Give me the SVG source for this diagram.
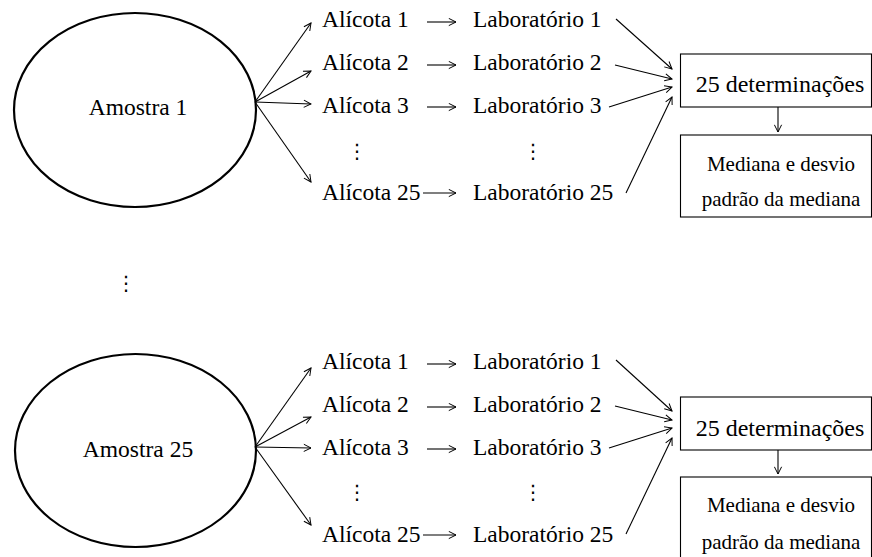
<svg xmlns="http://www.w3.org/2000/svg" width="872" height="557" viewBox="0 0 872 557">
<style>
text{font-family:'Liberation Serif','Times New Roman',serif;fill:#000}
.t{font-size:23.5px}
.c{text-anchor:middle}
.b{font-size:24px}
.s{font-size:21px}
.d{font-family:'DejaVu Serif','DejaVu Sans',serif;font-size:20px;text-anchor:middle}
.ell{fill:none;stroke:#000;stroke-width:2.2}
.box{fill:#fff;stroke:#000;stroke-width:1.1}
.cn line{stroke:#000;stroke-width:1.1;marker-end:url(#ah)}
</style>
<defs>
<marker id="ah" viewBox="0 0 10 10" refX="9" refY="5" markerWidth="9" markerHeight="9" markerUnits="userSpaceOnUse" orient="auto">
<path d="M1,1 L9,5 L1,9" fill="none" stroke="#000" stroke-width="1.1"/>
</marker>
</defs>
<rect width="872" height="557" fill="#fff"/>

<g id="amostra1"><ellipse class="ell" cx="135" cy="110" rx="121" ry="97"/><text class="t c" x="138" y="115">Amostra 1</text></g>
<g id="a1-al1"><text class="t" x="322" y="27">Alícota 1</text></g>
<g id="a1-al2"><text class="t" x="322" y="70">Alícota 2</text></g>
<g id="a1-al3"><text class="t" x="322" y="113">Alícota 3</text></g>
<g id="a1-al25"><text class="t" x="322" y="200">Alícota 25</text></g>
<g id="a1-lab1"><text class="t" x="473" y="27">Laboratório 1</text></g>
<g id="a1-lab2"><text class="t" x="473" y="70">Laboratório 2</text></g>
<g id="a1-lab3"><text class="t" x="473" y="113">Laboratório 3</text></g>
<g id="a1-lab25"><text class="t" x="473" y="200">Laboratório 25</text></g>
<g id="a1-dots"><text class="d" x="357" y="158">⋮</text><text class="d" x="533" y="158">⋮</text></g>
<g id="a1-det"><rect class="box" x="680.5" y="54" width="191" height="53"/><text class="b c" x="780" y="92">25 determinações</text></g>
<g id="a1-med"><rect class="box" x="680.5" y="135" width="191" height="82"/><text class="s c" x="781" y="171">Mediana e desvio</text><text class="s c" x="781" y="205.5">padrão da mediana</text></g>

<g id="mid-dots"><text class="d" x="126" y="290">⋮</text></g>

<g id="amostra25"><ellipse class="ell" cx="135.5" cy="450.5" rx="120.5" ry="96.5"/><text class="t c" x="138" y="457">Amostra 25</text></g>
<g id="a25-al1"><text class="t" x="322" y="369">Alícota 1</text></g>
<g id="a25-al2"><text class="t" x="322" y="412">Alícota 2</text></g>
<g id="a25-al3"><text class="t" x="322" y="455">Alícota 3</text></g>
<g id="a25-al25"><text class="t" x="322" y="542">Alícota 25</text></g>
<g id="a25-lab1"><text class="t" x="473" y="369">Laboratório 1</text></g>
<g id="a25-lab2"><text class="t" x="473" y="412">Laboratório 2</text></g>
<g id="a25-lab3"><text class="t" x="473" y="455">Laboratório 3</text></g>
<g id="a25-lab25"><text class="t" x="473" y="542">Laboratório 25</text></g>
<g id="a25-dots"><text class="d" x="357" y="499">⋮</text><text class="d" x="533" y="499">⋮</text></g>
<g id="a25-det"><rect class="box" x="680.5" y="397" width="191" height="53"/><text class="b c" x="780" y="436">25 determinações</text></g>
<g id="a25-med"><rect class="box" x="680.5" y="477" width="191" height="90"/><text class="s c" x="781" y="512">Mediana e desvio</text><text class="s c" x="781" y="548.5">padrão da mediana</text></g>

<g id="connectors" class="cn">
<line x1="255" y1="102" x2="311" y2="23"/>
<line x1="255" y1="102" x2="311" y2="71"/>
<line x1="255" y1="102" x2="311" y2="104"/>
<line x1="255" y1="102" x2="311" y2="182"/>
<line x1="427" y1="22" x2="456" y2="22"/>
<line x1="427" y1="65" x2="456" y2="65"/>
<line x1="427" y1="107" x2="456" y2="107"/>
<line x1="423" y1="193" x2="456" y2="193"/>
<line x1="616" y1="19" x2="672" y2="69"/>
<line x1="615" y1="65" x2="672" y2="79"/>
<line x1="609" y1="107" x2="672" y2="87"/>
<line x1="626" y1="193" x2="672" y2="97"/>
<line x1="778" y1="107" x2="778" y2="132"/>
<line x1="255" y1="447" x2="311" y2="368"/>
<line x1="255" y1="447" x2="311" y2="417"/>
<line x1="255" y1="447" x2="311" y2="448"/>
<line x1="255" y1="447" x2="311" y2="525"/>
<line x1="427" y1="364" x2="456" y2="364"/>
<line x1="427" y1="407" x2="456" y2="407"/>
<line x1="427" y1="449" x2="456" y2="449"/>
<line x1="423" y1="535" x2="456" y2="535"/>
<line x1="616" y1="360" x2="672" y2="411"/>
<line x1="615" y1="406" x2="672" y2="420"/>
<line x1="609" y1="448" x2="672" y2="428"/>
<line x1="626" y1="534" x2="672" y2="438"/>
<line x1="778" y1="450" x2="778" y2="474"/>
</g>
</svg>
